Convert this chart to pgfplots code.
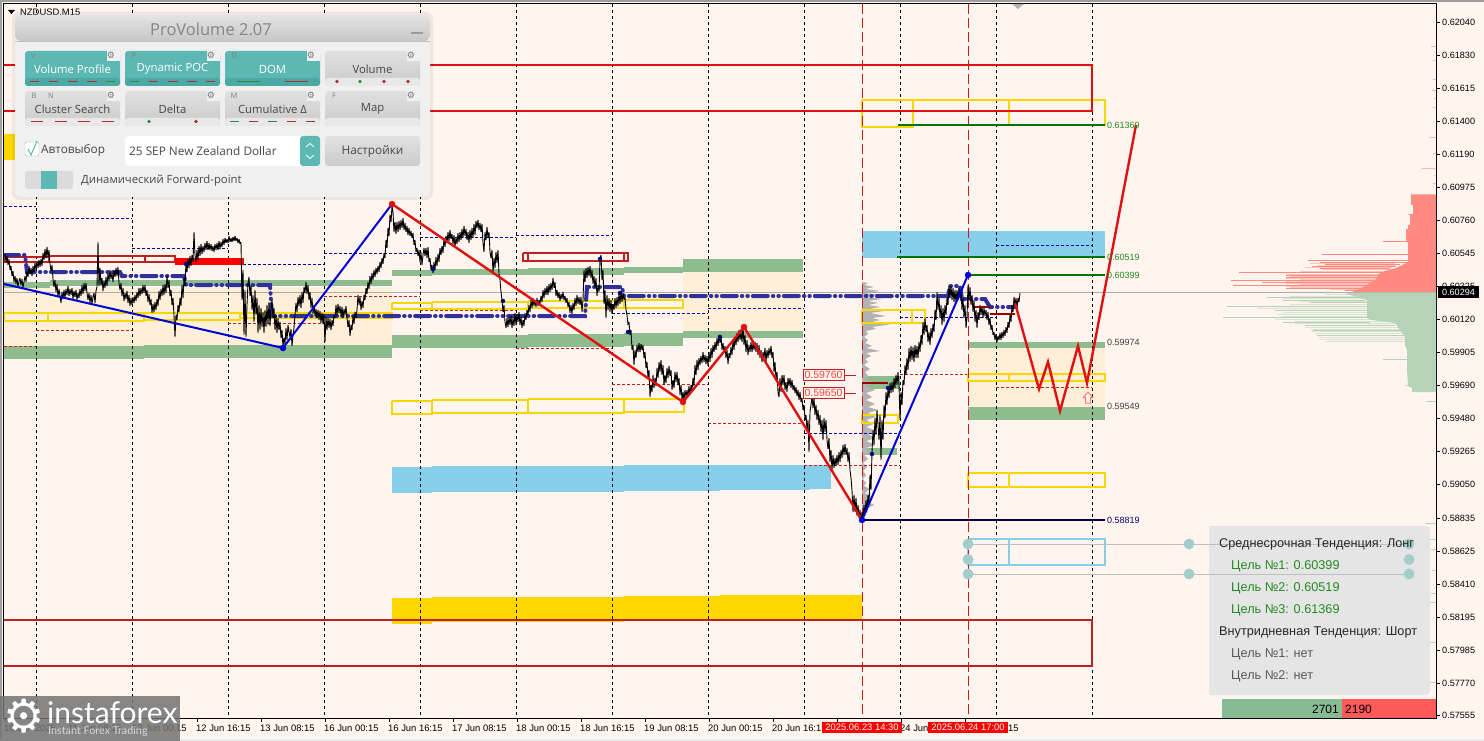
\documentclass[border=0pt]{standalone}
\usepackage{fontspec}
\setmainfont{Liberation Sans}
\newfontfamily\ui{Open Sans}
\newfontfamily\dejavu{DejaVu Sans}
\newfontfamily\lato{Lato}
\usepackage{pgfplots}
\pgfplotsset{compat=1.18}

\definecolor{bg}{HTML}{FFF5EE}
\definecolor{cream}{HTML}{FFEFD9}
\definecolor{zone}{HTML}{8FBC8F}
\definecolor{sky}{HTML}{87CEEB}
\definecolor{gold}{HTML}{FFD700}
\definecolor{boxy}{HTML}{F5D800}
\definecolor{lvlred}{HTML}{E01010}
\definecolor{dred}{HTML}{C02020}
\definecolor{dblue}{HTML}{0000A0}
\definecolor{poc}{HTML}{30309A}
\definecolor{volred}{HTML}{FF8A80}
\definecolor{volgreen}{HTML}{B5D3B8}
\definecolor{palered}{HTML}{FFC4BC}
\definecolor{palegreen}{HTML}{D8E4D2}
\definecolor{teal}{HTML}{5DB8B3}
\definecolor{tealdark}{HTML}{4BA8A4}
\definecolor{dotc}{HTML}{A3CDCB}
\definecolor{txtgreen}{HTML}{228B22}
\definecolor{mkred}{HTML}{B03030}
\definecolor{mkgreen}{HTML}{2E8B3E}

\newcommand{\band}[5]{\addplot[draw=none,fill=#5] coordinates {(#1,#2)(#3,#2)(#3,#4)(#1,#4)};}
\newcommand{\frm}[5]{\addplot[draw=#5,line width=1.2pt] coordinates {(#1,#2)(#3,#2)(#3,#4)(#1,#4)(#1,#2)};}

% small parts of the ProVolume panel
\newcommand{\gear}[2]{\node[font=\dejavu\fontsize{9}{9}\selectfont,text=black!55] at (#1,#2) {⚙};}
\newcommand{\tabl}[3]{\node[font=\ui\fontsize{7.5}{8}\selectfont,text=black!50] at (#1,#2) {#3};}
\newcommand{\dsh}[4]{\draw[#4,line width=0.9pt] (#1,#3) -- (#2,#3);}

\begin{document}
\begin{tikzpicture}
\fill[bg] (0pt,0pt) rectangle (1484pt,741pt);
\fill[black!38] (0pt,739pt) rectangle (1484pt,741pt);
\fill[black!38] (0pt,0pt) rectangle (1.5pt,741pt);
\fill[black!8] (0pt,0pt) rectangle (1484pt,2pt);

\begin{axis}[
  at={(4pt,23pt)},anchor=south west,
  scale only axis,width=1432pt,height=714pt,
  xmin=4,xmax=1436,ymin=4,ymax=718,y dir=reverse,
  axis line style={line width=1pt,black},
  tick style={black,line width=0.8pt},
  tick align=outside,major tick length=4pt,
  xtick pos=bottom,ytick pos=right,
  unbounded coords=jump,
  xtick={5,69,133,197,261,325,389,453,517,581,645,709,773,837,901,965},
  xticklabels={10 Jun 2025,11 Jun 08:15,12 Jun 00:15,12 Jun 16:15,13 Jun 08:15,16 Jun 00:15,16 Jun 16:15,17 Jun 08:15,18 Jun 00:15,18 Jun 16:15,19 Jun 08:15,20 Jun 00:15,20 Jun 16:15,23 Jun 08:15,24 Jun 00:15,24 Jun 16:15},
  x tick label style={anchor=north west,inner sep=0pt,font=\fontsize{9.4}{10}\selectfont,xshift=-1pt,yshift=-3pt},
  ytick={22.4,55,88,121,154.5,187.5,220.5,253.5,286,319.5,352,385,418,451,484,518,551,584,617,650,683,715},
  yticklabels={0.62040,0.61830,0.61615,0.61400,0.61190,0.60975,0.60760,0.60545,0.60325,0.60120,0.59905,0.59690,0.59480,0.59265,0.59050,0.58835,0.58625,0.58410,0.58195,0.57985,0.57770,0.57555},
  y tick label style={anchor=west,inner sep=0pt,font=\fontsize{9.1}{10}\selectfont,xshift=2pt},
]
% cream value areas
\band{4}{288}{392}{346}{cream}
\band{683}{272}{803}{331}{cream}
\band{968}{348}{1105}{407}{cream}
% green zones
\band{4}{282}{50}{288}{zone}
\band{50}{279.5}{392}{286}{zone}
\band{392}{270}{432}{276}{zone}
\band{432}{269}{528}{275}{zone}
\band{528}{268}{624}{275}{zone}
\band{624}{267}{683}{273}{zone}
\band{683}{259}{803}{272}{zone}
\band{4}{346}{144}{358.5}{zone}
\band{144}{345}{392}{358}{zone}
\band{392}{335}{528}{348}{zone}
\band{528}{334}{624}{347}{zone}
\band{624}{333}{683}{346}{zone}
\band{683}{331}{803}{338}{zone}
\band{968}{342}{1105}{348}{zone}
\band{968}{407}{1105}{420}{zone}
\band{862}{376}{900}{389}{zone}
\band{862}{448}{897}{455}{zone}
% blue zones
\band{392}{467}{432}{493}{sky}
\band{432}{466}{624}{492}{sky}
\band{624}{465}{720}{491}{sky}
\band{720}{465}{810}{490}{sky}
\band{810}{465}{831}{489}{sky}
\band{862}{231}{1105}{258}{sky}
% gold zones
\band{4}{134}{16}{160}{gold}
\band{392}{598}{432}{624}{gold}
\band{432}{597}{624}{622}{gold}
\band{624}{596}{720}{621}{gold}
\band{720}{595}{862}{620}{gold}
% fixed range profile
\addplot[draw=none,fill=black!30] coordinates {(862,282)(868,283)(864,285)(874,287)(865,289)(880,291)(866,293)(878,295)(866,297)(882,299)(868,301)(878,303)(868,305)(880,307)(870,309)(884,311)(870,313)(886,316)(872,318)(880,320)(872,322)(890,324.5)(872,327)(876,329)(866,331)(868,334)(864,337)(868,340)(865,343)(872,346)(866,348)(880,351)(866,353)(871,356)(865,359)(868,362)(864,365)(870,369)(865,372)(868,376)(864,379)(875,383)(866,386)(875,390)(866,393)(872,397)(866,400)(875,404)(868,407)(878,410)(868,413)(876,417)(866,420)(873,424)(866,427)(876,431)(868,434)(875,438)(866,441)(875,445)(866,448)(870,452)(864,455)(868,459)(863,463)(867,467)(863,471)(866,475)(863,479)(866,483)(864,486)(870,489)(865,493)(871,497)(866,501)(874,505)(866,509)(868,512)(862,516)};
% price line of the last session
\addplot[gray!65,line width=0.8pt] coordinates {(4,292)(1436,292)};
% session separators
\addplot[black,line width=0.9pt,dash pattern=on 3pt off 3pt] coordinates {(36,4)(36,718)(36,nan)(132,4)(132,718)(132,nan)(228,4)(228,718)(228,nan)(324,4)(324,718)(324,nan)(420,4)(420,718)(420,nan)(516,4)(516,718)(516,nan)(612,4)(612,718)(612,nan)(708,4)(708,718)(708,nan)(804,4)(804,718)(804,nan)(900,4)(900,718)(900,nan)(996,4)(996,718)(996,nan)(1092,4)(1092,718)};
% session levels, high side
\addplot[dblue,line width=1pt,yshift=-0.5pt,dash pattern=on 3pt off 2pt] coordinates {(4,206)(36,206)(36,nan)(36,218)(132,218)(132,nan)(132,248)(228,248)(228,nan)(228,264)(324,264)(324,nan)(324,253)(420,253)(420,nan)(420,237)(516,237)(516,nan)(516,235)(612,235)(612,nan)(612,313)(708,313)(708,nan)(708,308)(804,308)(804,nan)(804,433)(900,433)(900,nan)(900,317)(996,317)(996,nan)(996,245)(1092,245)};
% session levels, low side
\addplot[dred,line width=1pt,yshift=-0.5pt,dash pattern=on 3pt off 2pt] coordinates {(4,346)(36,346)(36,nan)(36,330)(132,330)(132,nan)(132,320)(228,320)(228,nan)(228,323)(324,323)(324,nan)(324,296)(420,296)(420,nan)(420,310)(516,310)(516,nan)(516,348)(612,348)(612,nan)(612,384)(708,384)(708,nan)(708,423)(804,423)(804,nan)(804,465)(900,465)(900,nan)(900,374)(996,374)(996,nan)(996,387)(1092,387)};
% yellow boxes
\frm{4}{313}{48}{321}{boxy}
\frm{48}{313}{144}{321}{boxy}
\frm{144}{313}{240}{320}{boxy}
\frm{240}{313}{392}{318}{boxy}
\frm{392}{303}{432}{309}{boxy}
\frm{432}{302}{528}{309}{boxy}
\frm{528}{301}{624}{308}{boxy}
\frm{624}{300}{683}{308}{boxy}
\frm{392}{401}{432}{414}{boxy}
\frm{432}{400}{528}{413}{boxy}
\frm{528}{399}{624}{413}{boxy}
\frm{624}{399}{684}{412}{boxy}
\frm{862}{100}{913}{127}{boxy}
\frm{913}{100}{1009}{125}{boxy}
\frm{1009}{100}{1105}{125}{boxy}
\frm{862}{310}{912}{323}{boxy}
\frm{912}{310}{925}{323}{boxy}
\frm{862}{415}{898}{423}{boxy}
\frm{968}{374}{1009}{381}{boxy}
\frm{1009}{374}{1105}{381}{boxy}
\frm{968}{473}{1009}{487}{boxy}
\frm{1009}{473}{1105}{487}{boxy}
\frm{968}{539}{1009}{565}{sky}
\frm{1009}{539}{1105}{565}{sky}
% red boxes
\frm{4}{257}{49}{262}{dred}
\frm{49}{256}{145}{262}{dred}
\frm{145}{256}{175}{262}{dred}
\band{175}{258}{244}{265}{red}
\frm{523}{253}{528}{261}{dred}
\frm{528}{253}{624}{261}{dred}
\frm{624}{253}{628}{261}{dred}
% big red frames
\addplot[lvlred,line width=2pt] coordinates {(4,65)(1092,65)(1092,111)(4,111)};
\addplot[dred,line width=2pt] coordinates {(4,620)(1092,620)(1092,666)(4,666)};
% dynamic POC
\addplot[poc,line width=4pt,line cap=round,dash pattern=on 15pt off 5pt on 0.5pt off 5pt on 0.5pt off 5pt] coordinates {(4,255)(25,255)(27,272)(120,272)(122,276)(184,276)(186,285)(270,285)(272,316)(585,316)(587,287)(622,287)(624,296)(948,296)(950,286)(960,286)(962,299)(985,299)(990,307)(1015,307)};
% vertical markers
\addplot[dred!80!red,line width=0.9pt,dash pattern=on 10pt off 4pt] coordinates {(862,4)(862,718)(862,nan)(968,4)(968,718)};
% profile on the right
\addplot[palered,line width=0.8pt] coordinates {(1395,263)(1310,263)(1310,nan)(1395,265)(1318,265)(1318,nan)(1392,267)(1305,267)(1305,nan)(1390,269)(1322,269)(1322,nan)(1385,271)(1300,271)(1300,nan)(1380,274)(1286,274)(1286,nan)(1378,276)(1290,276)(1290,nan)(1378,278)(1286,278)(1286,nan)(1375,279)(1300,279)(1300,nan)(1375,281)(1286,281)(1286,nan)(1372,283)(1286,283)(1286,nan)(1370,284)(1300,284)(1300,nan)(1365,286)(1286,286)(1286,nan)(1362,287)(1290,287)(1290,nan)(1360,289)(1330,289)};
\addplot[palegreen,line width=0.8pt] coordinates {(1360,294)(1325,294)(1325,nan)(1365,296)(1290,296)(1290,nan)(1367,298)(1283,298)(1283,nan)(1367,301)(1300,301)(1300,nan)(1367,304)(1290,304)(1290,nan)(1367,308)(1258,308)(1258,nan)(1367,312)(1283,312)(1283,nan)(1367,314)(1278,314)(1278,nan)(1370,316)(1283,316)(1283,nan)(1372,319)(1275,319)(1275,nan)(1385,321)(1295,321)(1295,nan)(1395,323)(1295,323)(1295,nan)(1400,327)(1305,327)(1305,nan)(1400,329)(1310,329)(1310,nan)(1403,331)(1312,331)(1312,nan)(1405,333)(1315,333)(1315,nan)(1405,337)(1318,337)(1318,nan)(1405,339)(1320,339)(1320,nan)(1405,341)(1325,341)};
\addplot[draw=none,fill=volred] coordinates {(1436,194.5)(1411,194.5)(1411,205)(1413,205)(1413,214)(1407,214)(1410,215)(1410,225)(1408,225)(1408,229)(1406,229)(1406,240)(1408,243)(1408,262)(1402,265)(1396,268)(1385,271)(1380,273)(1375,280)(1367,285)(1357,290)(1352,292)(1436,292)};
\addplot[draw=none,fill=volgreen] coordinates {(1436,292.5)(1343,292.5)(1350,295)(1367,300)(1367,318)(1372,320)(1395,323)(1400,330)(1405,337)(1405,345)(1407,350)(1407,370)(1408,385)(1405,385)(1412,388)(1412,392)(1436,392)};
\addplot[volred,line width=0.8pt] coordinates {(1408,241)(1383,241)(1383,nan)(1408,254)(1322,254)(1322,nan)(1408,260)(1308,260)(1308,nan)(1408,262)(1320,262)(1320,nan)(1400,264)(1325,264)(1325,nan)(1396,266)(1312,266)(1312,nan)(1390,268)(1320,268)(1320,nan)(1385,272)(1239,272)(1239,nan)(1380,275)(1286,275)(1286,nan)(1380,277)(1286,277)(1286,nan)(1375,280)(1231,280)(1231,nan)(1375,282)(1262,282)(1262,nan)(1367,285)(1233,285)(1233,nan)(1360,288)(1286,288)(1286,nan)(1357,290)(1345,290)};
\addplot[volgreen,line width=0.8pt] coordinates {(1360,297)(1267,297)(1267,nan)(1365,300)(1283,300)(1283,nan)(1367,302)(1310,302)(1310,nan)(1367,306)(1227,306)(1227,nan)(1367,310)(1275,310)(1275,nan)(1367,317.5)(1223,317.5)(1223,nan)(1370,322)(1283,322)(1283,nan)(1395,325)(1305,325)(1305,nan)(1400,330)(1313,330)(1313,nan)(1405,335)(1317,335)(1317,nan)(1407,359)(1383,359)(1383,nan)(1408,365)(1413,365)};
\addplot[volred!60!bg,line width=0.8pt] coordinates {(1436,46)(1431,46)(1431,nan)(1436,60)(1433,60)(1433,nan)(1436,79)(1433,79)(1433,nan)(1436,90)(1432,90)(1432,nan)(1436,98)(1434,98)(1434,nan)(1436,107)(1433,107)(1433,nan)(1436,137)(1430,137)(1430,nan)(1436,153)(1433,153)(1433,nan)(1436,168)(1422,168)(1422,nan)(1436,175)(1434,175)(1434,nan)(1436,183)(1433,183)};
\addplot[volgreen,line width=0.8pt] coordinates {(1436,401)(1426,401)(1426,nan)(1436,523)(1426,523)(1426,nan)(1436,539)(1428,539)(1428,nan)(1436,549)(1431,549)(1431,nan)(1436,570)(1432,570)(1432,nan)(1436,593)(1431,593)(1431,nan)(1436,602)(1428,602)(1428,nan)(1436,642)(1415,642)(1415,nan)(1436,682)(1427,682)};
% price
\addplot[black,line width=0.9pt,line join=bevel] coordinates {
(5,254)(6,262)(7,256)(8,265)(9,259)(10,270)(11,266)(12,276)(13,271)(14,282)(15,276)(16,284)(17,278)(18,287)(19,281)(20,278)(21,285)(22,279)(23,288)(24,282)(25,276)(26,282)(27,271)(28,277)(29,266)(30,274)(31,268)(32,276)(33,266)(34,272)(35,263)(36,270)(37,262)(38,268)(39,260)(40,267)(41,259)(42,266)(43,253)(44,260)(45,249)(46,258)(47,247)(48,257)(49,250)(50,264)(51,271)(52,265)(53,279)(54,287)(55,280)(56,292)(57,284)(58,297)(59,289)(60,296)(61,303)(62,292)(63,299)(64,290)(65,298)(66,289)(67,295)(68,286)(69,296)(70,289)(71,295)(72,288)(73,299)(74,291)(75,297)(76,290)(77,300)(78,293)(79,298)(80,289)(81,296)(82,285)(83,294)(84,283)(85,291)(86,283)(87,293)(88,300)(89,293)(90,303)(91,295)(92,304)(93,297)(94,293)(95,303)(96,291)(97,287)(98,242)(99,286)
(100,268)(101,285)(102,278)(103,291)(104,281)(105,288)(106,277)(107,286)(108,273)(109,281)(110,270)(111,279)(112,273)(113,282)(114,271)(115,277)(116,268)(117,276)(118,267)(119,283)(120,290)(121,283)(122,296)(123,288)(124,301)(125,293)(126,299)(127,291)(128,303)(129,295)(130,306)(131,298)(132,305)(133,297)(134,303)(135,295)(136,301)(137,292)(138,298)(139,288)(140,296)(141,288)(142,294)(143,285)(144,293)(145,285)(146,296)(147,290)(148,302)(149,294)(150,305)(151,299)(152,313)(153,304)(154,312)(155,302)(156,310)(157,299)(158,306)(159,291)(160,300)(161,289)(162,296)(163,285)(164,295)(165,284)(166,293)(167,276)(168,288)(169,280)(170,296)(171,290)(172,305)(173,298)(174,315)(175,337)(176,315)(177,320)(178,305)(179,312)(180,298)(181,306)(182,285)(183,298)(184,278)(185,286)(186,262)(187,272)(188,259)(189,268)(190,256)(191,266)(192,255)(193,262)(194,232)(195,255)(196,262)(197,250)(198,260)(199,246)
(200,256)(201,244)(202,254)(203,246)(204,252)(205,243)(206,250)(207,241)(208,250)(209,243)(210,250)(211,244)(212,251)(213,246)(214,252)(215,244)(216,250)(217,243)(218,250)(219,241)(220,249)(221,242)(222,247)(223,239)(224,245)(225,238)(226,243)(227,239)(228,243)(229,236)(230,242)(231,238)(232,242)(233,237)(234,241)(235,236)(236,241)(237,238)(238,243)(239,239)(240,244)(241,242)(242,300)(243,270)(244,335)(245,290)(246,337)(247,305)(248,283)(249,277)(250,296)(251,285)(252,310)(253,295)(254,322)(255,290)(256,315)(257,298)(258,333)(259,305)(260,330)(261,308)(262,327)(263,312)(264,333)(265,310)(266,327)(267,305)(268,325)(269,302)(270,326)(271,308)(272,300)(273,318)(274,308)(275,330)(276,315)(277,333)(278,318)(279,330)(280,322)(281,338)(282,330)(283,347)(284,338)(285,344)(286,328)(287,340)(288,325)(289,332)(290,337)(291,329)(292,346)(293,335)(294,328)(295,315)(296,303)(297,312)(298,297)(299,306)
(300,295)(301,308)(302,292)(303,303)(304,287)(305,293)(306,282)(307,294)(308,285)(309,300)(310,292)(311,308)(312,298)(313,314)(314,305)(315,316)(316,309)(317,318)(318,310)(319,320)(320,311)(321,323)(322,313)(323,324)(324,314)(325,342)(326,317)(327,330)(328,318)(329,328)(330,319)(331,330)(332,320)(333,326)(334,315)(335,318)(336,305)(337,316)(338,304)(339,313)(340,306)(341,316)(342,307)(343,318)(344,309)(345,315)(346,306)(347,318)(348,327)(349,320)(350,336)(351,325)(352,330)(353,316)(354,324)(355,312)(356,318)(357,310)(358,295)(359,305)(360,297)(361,310)(362,301)(363,308)(364,295)(365,300)(366,288)(367,294)(368,282)(369,289)(370,276)(371,284)(372,273)(373,280)(374,270)(375,277)(376,268)(377,274)(378,266)(379,272)(380,262)(381,268)(382,258)(383,264)(384,253)(385,258)(386,240)(387,248)(388,228)(389,236)(390,215)(391,222)(392,206)(393,212)(394,232)(395,222)(396,234)(397,222)(398,232)(399,221)
(400,230)(401,220)(402,228)(403,218)(404,230)(405,223)(406,232)(407,226)(408,235)(409,228)(410,236)(411,231)(412,238)(413,233)(414,245)(415,240)(416,252)(417,248)(418,256)(419,250)(420,262)(421,252)(422,265)(423,255)(424,248)(425,256)(426,248)(427,258)(428,247)(429,262)(430,258)(431,270)(432,265)(433,273)(434,262)(435,270)(436,257)(437,266)(438,254)(439,262)(440,248)(441,255)(442,246)(443,253)(444,238)(445,247)(446,236)(447,243)(448,232)(449,241)(450,230)(451,239)(452,234)(453,244)(454,235)(455,247)(456,238)(457,244)(458,233)(459,242)(460,232)(461,240)(462,229)(463,238)(464,226)(465,236)(466,229)(467,240)(468,232)(469,243)(470,230)(471,240)(472,228)(473,238)(474,224)(475,235)(476,221)(477,228)(478,220)(479,230)(480,223)(481,232)(482,224)(483,243)(484,252)(485,232)(486,240)(487,227)(488,238)(489,232)(490,252)(491,258)(492,250)(493,273)(494,258)(495,268)(496,252)(497,263)(498,250)(499,274)
(500,280)(501,292)(502,300)(503,312)(504,305)(505,322)(506,328)(507,318)(508,327)(509,317)(510,325)(511,316)(512,328)(513,318)(514,326)(515,313)(516,325)(517,314)(518,322)(519,312)(520,325)(521,317)(522,328)(523,320)(524,326)(525,313)(526,320)(527,310)(528,315)(529,305)(530,312)(531,300)(532,308)(533,298)(534,306)(535,300)(536,307)(537,298)(538,306)(539,300)(540,304)(541,296)(542,302)(543,290)(544,298)(545,288)(546,295)(547,286)(548,295)(549,284)(550,292)(551,283)(552,290)(553,278)(554,288)(555,282)(556,296)(557,290)(558,298)(559,292)(560,301)(561,294)(562,299)(563,292)(564,300)(565,296)(566,303)(567,298)(568,307)(569,302)(570,313)(571,305)(572,314)(573,303)(574,310)(575,298)(576,306)(577,295)(578,304)(579,297)(580,305)(581,297)(582,312)(583,300)(584,270)(585,282)(586,268)(587,278)(588,267)(589,276)(590,266)(591,278)(592,270)(593,284)(594,276)(595,288)(596,278)(597,296)(598,285)(599,292)
(600,258)(601,255)(602,280)(603,270)(604,304)(605,290)(606,318)(607,295)(608,310)(609,298)(610,312)(611,300)(612,314)(613,304)(614,310)(615,298)(616,308)(617,297)(618,306)(619,293)(620,304)(621,292)(622,302)(623,293)(624,300)(625,297)(626,310)(627,315)(628,325)(629,322)(630,335)(631,330)(632,350)(633,345)(634,365)(635,350)(636,358)(637,345)(638,352)(639,343)(640,352)(641,344)(642,350)(643,345)(644,358)(645,352)(646,368)(647,362)(648,378)(649,370)(650,397)(651,385)(652,392)(653,375)(654,388)(655,378)(656,386)(657,368)(658,378)(659,362)(660,372)(661,360)(662,375)(663,365)(664,385)(665,375)(666,383)(667,368)(668,378)(669,366)(670,376)(671,370)(672,390)(673,380)(674,388)(675,372)(676,382)(677,372)(678,385)(679,378)(680,395)(681,385)(682,400)(683,392)(684,400)(685,390)(686,397)(687,390)(688,396)(689,386)(690,395)(691,385)(692,390)(693,378)(694,386)(695,365)(696,375)(697,360)(698,370)(699,358)
(700,365)(701,356)(702,363)(703,352)(704,362)(705,355)(706,364)(707,356)(708,366)(709,352)(710,362)(711,348)(712,358)(713,345)(714,352)(715,342)(716,350)(717,338)(718,346)(719,335)(720,343)(721,336)(722,350)(723,343)(724,352)(725,346)(726,358)(727,350)(728,364)(729,353)(730,358)(731,347)(732,355)(733,340)(734,350)(735,337)(736,345)(737,333)(738,342)(739,330)(740,340)(741,332)(742,342)(743,326)(744,345)(745,335)(746,352)(747,340)(748,355)(749,345)(750,352)(751,342)(752,352)(753,343)(754,350)(755,342)(756,352)(757,343)(758,355)(759,345)(760,358)(761,350)(762,362)(763,352)(764,358)(765,348)(766,362)(767,350)(768,358)(769,348)(770,355)(771,346)(772,358)(773,352)(774,372)(775,362)(776,380)(777,372)(778,392)(779,397)(780,378)(781,392)(782,375)(783,385)(784,375)(785,390)(786,382)(787,392)(788,378)(789,386)(790,378)(791,388)(792,380)(793,390)(794,385)(795,393)(796,387)(797,396)(798,390)(799,400)
(800,392)(801,402)(802,398)(803,410)(804,405)(805,420)(806,415)(807,430)(808,420)(809,452)(810,412)(811,405)(812,396)(813,408)(814,398)(815,415)(816,405)(817,420)(818,410)(819,425)(820,415)(821,432)(822,420)(823,440)(824,418)(825,432)(826,420)(827,440)(828,449)(829,438)(830,462)(831,450)(832,470)(833,455)(834,468)(835,458)(836,466)(837,455)(838,465)(839,452)(840,462)(841,450)(842,458)(843,445)(844,455)(845,444)(846,455)(847,448)(848,462)(849,452)(850,470)(851,478)(852,490)(853,512)(854,495)(855,512)(856,498)(857,516)(858,505)(859,518)(860,510)(861,522)(862,512)(863,518)(864,505)(865,515)(866,500)(867,510)(868,495)(869,505)(870,475)(871,490)(872,452)(873,430)(874,445)(875,418)(876,435)(877,410)(878,425)(879,440)(880,415)(881,460)(882,420)(883,440)(884,405)(885,418)(886,392)(887,405)(888,388)(889,398)(890,383)(891,393)(892,382)(893,392)(894,378)(895,388)(896,375)(897,385)(898,372)(899,385)
(900,420)(901,392)(902,405)(903,380)(904,385)(905,365)(906,375)(907,358)(908,370)(909,348)(910,362)(911,346)(912,360)(913,347)(914,362)(915,345)(916,358)(917,346)(918,358)(919,342)(920,352)(921,335)(922,345)(923,322)(924,335)(925,318)(926,332)(927,325)(928,342)(929,332)(930,345)(931,328)(932,338)(933,324)(934,332)(935,310)(936,320)(937,292)(938,310)(939,298)(940,318)(941,305)(942,325)(943,308)(944,322)(945,305)(946,315)(947,298)(948,305)(949,285)(950,298)(951,286)(952,300)(953,288)(954,302)(955,290)(956,303)(957,290)(958,300)(959,288)(960,298)(961,290)(962,310)(963,298)(964,318)(965,305)(966,328)(967,318)(968,285)(969,300)(970,287)(971,305)(972,295)(973,312)(974,300)(975,322)(976,310)(977,328)(978,312)(979,320)(980,305)(981,315)(982,306)(983,318)(984,308)(985,316)(986,310)(987,320)(988,312)(989,325)(990,318)(991,330)(992,325)(993,335)(994,332)(995,340)(996,334)(997,342)(998,336)(999,340)
(1000,333)(1001,340)(1002,332)(1003,338)(1004,330)(1005,336)(1006,327)(1007,333)(1008,322)(1009,328)(1010,315)(1011,322)(1012,305)(1013,312)(1014,297)(1015,305)(1016,298)(1017,308)(1018,298)(1019,302)(1020,293)};
\addplot[only marks,mark=*,mark size=2pt,color=dblue!80!black,mark options={draw=none,fill=dblue!80!black}] coordinates {(186,264)(433,269)(503,301)(600,259)(620,293)(628,332)(720,337)(872,454)(888,388)};
% targets
\addplot[green!45!black,line width=2pt] coordinates {(897,257)(1105,257)(1105,nan)(968,275)(1105,275)(1105,nan)(898,125)(1105,125)};
\addplot[black!55!blue!60!black,line width=2pt] coordinates {(862,520)(1105,520)};
\addplot[red!60!black,line width=1.6pt] coordinates {(975,307)(990,307)(990,nan)(990,314)(1015,314)(1015,nan)(862,383)(888,383)};
\addplot[dred,line width=1pt] coordinates {(844,375)(856,375)(856,nan)(844,393)(856,393)};
% zigzags
\addplot[blue!85!black,line width=2pt] coordinates {(4,284)(283,348)(392,204)};
\addplot[lvlred,line width=2.4pt] coordinates {(392,204)(683,402)(744,327)(862,520)};
\addplot[blue!85!black,line width=2pt] coordinates {(862,520)(968,275)};
\addplot[lvlred,line width=2.4pt,line join=miter] coordinates {(1015,303)(1039,389)(1048,362)(1060,411)(1078,346)(1087,383)(1136,125)};
\addplot[only marks,mark=*,mark size=3pt,color=lvlred,mark options={draw=none,fill=lvlred}] coordinates {(392,204)(683,402)(744,327)};
\addplot[only marks,mark=*,mark size=3pt,color=blue!85!black,mark options={draw=none,fill=blue!85!black}] coordinates {(283,348)(862,520)(968,275)};
% hollow arrow
\addplot[red!50!bg,line width=1pt,fill=bg] coordinates {(1088,392)(1092.5,397.5)(1090.5,397.5)(1090.5,403)(1085.5,403)(1085.5,397.5)(1083.5,397.5)(1088,392)};
% info panel
\addplot[draw=none,fill=black!10,rounded corners=4pt] coordinates {(1209,526)(1430,526)(1430,695)(1209,695)};
% delta bar
\band{1222}{699}{1342}{718}{zone!85!teal}
\band{1342}{699}{1436}{718}{red!65!white}
% drag handles
\addplot[black!25,line width=1pt] coordinates {(968,544)(1409,544)(1409,nan)(968,574)(1409,574)};
\addplot[only marks,mark=*,mark size=5.2pt,color=dotc,mark options={draw=dotc,fill=dotc}] coordinates {(968,544)(968,559.5)(968,574)(1189,544)(1189,574)(1409,544)(1409,559.5)(1409,574)};
\end{axis}

\begin{scope}[shift={(0pt,741pt)},x=1pt,y=-1pt]
% labels of the levels
\foreach \v/\yy/\c in {0.61369/125/txtgreen,0.60519/257/txtgreen,0.60399/275/txtgreen,0.59974/342/black!75,0.59549/406/black!75,0.58819/520/black!55!blue} {
  \node[anchor=west,inner sep=0pt,font=\fontsize{9}{10}\selectfont,text=\c] at (1107,\yy) {\v};
}
\foreach \v/\yy in {0.59760/375,0.59650/393} {
  \draw[dred,line width=0.8pt,fill=bg] (803,\yy-5.8) rectangle (844,\yy+5.8);
  \node[inner sep=0pt,font=\fontsize{10.5}{11}\selectfont,text=red!75!white] at (823.5,\yy) {\v};
}
% last price and date flags
\fill[black] (1438,286) rectangle (1479,298);
\node[inner sep=0pt,font=\fontsize{9.1}{10}\selectfont,text=white] at (1458.5,292) {0.60294};
\fill[red] (822,722) rectangle (902,733);
\node[inner sep=0pt,font=\fontsize{9.4}{10}\selectfont,text=white] at (862,727.5) {2025.06.23 14:30};
\fill[red] (928,722) rectangle (1008,733);
\node[inner sep=0pt,font=\fontsize{9.4}{10}\selectfont,text=white] at (968,727.5) {2025.06.24 17:00};
% delta numbers
\node[anchor=east,inner sep=0pt,font=\fontsize{12}{13}\selectfont] at (1339,709) {2701};
\node[anchor=west,inner sep=0pt,font=\fontsize{12}{13}\selectfont] at (1345,709) {2190};
% trend panel text
\node[anchor=west,inner sep=0pt,font=\fontsize{12.7}{14}\selectfont,text=black!85] at (1219,544.5) {Среднесрочная Тенденция: Лонг};
\node[anchor=west,inner sep=0pt,font=\fontsize{12.7}{14}\selectfont,text=txtgreen] at (1231,566) {Цель №1: 0.60399};
\node[anchor=west,inner sep=0pt,font=\fontsize{12.7}{14}\selectfont,text=txtgreen] at (1231,588) {Цель №2: 0.60519};
\node[anchor=west,inner sep=0pt,font=\fontsize{12.7}{14}\selectfont,text=txtgreen] at (1231,610) {Цель №3: 0.61369};
\node[anchor=west,inner sep=0pt,font=\fontsize{12.7}{14}\selectfont,text=black!85] at (1219,632) {Внутридневная Тенденция: Шорт};
\node[anchor=west,inner sep=0pt,font=\fontsize{12.7}{14}\selectfont,text=black!65] at (1231,654) {Цель №1: нет};
\node[anchor=west,inner sep=0pt,font=\fontsize{12.7}{14}\selectfont,text=black!65] at (1231,676) {Цель №2: нет};
% symbol
\fill[black] (8,10) -- (15,10) -- (11.5,14) -- cycle;
\node[anchor=west,inner sep=0pt,font=\fontsize{9.4}{10}\selectfont] at (20,12.5) {NZDUSD.M15};
\fill[black!30] (1012,4) -- (1024,4) -- (1018,9) -- cycle;
% ProVolume panel
\fill[black,opacity=0.06,rounded corners=7pt] (12,12) rectangle (433,200);
\fill[black!6,rounded corners=6pt] (15,15) rectangle (430,197);
\shade[top color=black!11,bottom color=black!22,rounded corners=6pt] (15,15) rectangle (430,41);
\draw[black!25] (15,41) -- (430,41);
\node[font=\ui\fontsize{16.5}{18}\selectfont,text=black!48] at (211,29) {ProVolume 2.07};
\fill[black!40] (411,32.5) rectangle (423,34);
% buttons
\foreach \bx/\by/\bt in {25/51/Volume Profile,125/51/Dynamic POC,225/51/DOM} {
  \fill[teal,rounded corners=3pt] (\bx,\by) rectangle ++(95,35);
  \fill[tealdark,rounded corners=3pt] (\bx,\by+27) rectangle ++(95,8);
  \fill[black!6] (\bx+82,\by) rectangle ++(13,10);
  \node[font=\ui\fontsize{11.3}{14}\selectfont,text=white] at (\bx+47.5,\by+18) {\bt};
  \gear{\bx+86}{\by+4.5}
}
\foreach \bx/\by/\bt in {325/51/Volume,25/91/Cluster Search,125/91/Delta,225/91/Cumulative Δ,325/91/Map} {
  \shade[top color=black!12,bottom color=black!21,rounded corners=3pt] (\bx,\by) rectangle ++(95,35);
  \fill[black!9,rounded corners=3pt] (\bx,\by+27) rectangle ++(95,8);
  \fill[black!6] (\bx+82,\by) rectangle ++(13,10);
  \node[font=\ui\fontsize{11.3}{14}\selectfont,text=black!72] at (\bx+47.5,\by+18) {\bt};
  \gear{\bx+86}{\by+4.5}
}
\tabl{33}{56}{V}\tabl{134}{56}{P}\tabl{234}{56}{D}\tabl{34}{96}{B}\tabl{51}{96}{N}\tabl{234}{96}{M}\tabl{334}{96}{F}
% status marks on the buttons
\foreach \a/\b in {30/39,49/58,68/78,87/97} {\dsh{\a}{\b}{81.5}{mkred}}
\dsh{106}{115}{81.5}{mkgreen}
\dsh{130}{139}{81.5}{mkgreen}
\foreach \a/\b in {149/158,168/178,187/197,206/215} {\dsh{\a}{\b}{81.5}{mkred}}
\dsh{237}{260}{81.5}{mkgreen}\dsh{285}{308}{81.5}{mkred}
\foreach \a/\c in {337/mkred,384/mkred,408/mkred,360/mkgreen} {\fill[\c] (\a,81.5) circle (1.8);}
\foreach \a/\b in {31/43,55/67,78/90,102/114} {\dsh{\a}{\b}{121.5}{mkred}}
\fill[mkgreen] (149,121.5) circle (1.8);\fill[mkred] (196,121.5) circle (1.8);
\dsh{230}{239}{121.5}{mkgreen}\dsh{249}{258}{121.5}{mkred}\dsh{268}{277}{121.5}{mkgreen}\dsh{287}{296}{121.5}{mkred}\dsh{306}{315}{121.5}{mkred}
% lower rows
\fill[white,rounded corners=2pt] (25,142) rectangle ++(14,14);
\draw[black!30,rounded corners=2pt] (25,142) rectangle ++(14,14);
\draw[teal,line width=1pt] (28,149) -- (31,155) -- (37,141);
\node[anchor=west,inner sep=0pt,font=\ui\fontsize{11.8}{13}\selectfont,text=black!72] at (41,150) {Автовыбор};
\fill[white,rounded corners=4pt] (125,136) rectangle (320,166);
\fill[teal,rounded corners=3pt] (300,136) rectangle (320,166);
\draw[white,line width=0.8pt] (306,147) -- (310,143.5) -- (314,147) (306,155) -- (310,158.5) -- (314,155);
\node[anchor=west,inner sep=0pt,font=\ui\fontsize{11.8}{13}\selectfont,text=black!72] at (129,151.5) {25 SEP New Zealand Dollar};
\shade[top color=black!12,bottom color=black!20,rounded corners=3pt] (325,136) rectangle (420,166);
\node[font=\ui\fontsize{11.8}{13}\selectfont,text=black!72] at (372.5,151.5) {Настройки};
\fill[black!14,rounded corners=3pt] (25,171) rectangle (73,189);
\fill[teal] (41,171) rectangle (57,189);
\node[anchor=west,inner sep=0pt,font=\ui\fontsize{11.3}{13}\selectfont,text=black!72] at (81,181) {Динамический Forward-point};
% watermark
\fill[black!55,opacity=0.85] (0,696) rectangle (180,741);
\node[font=\dejavu\fontsize{46}{46}\selectfont,text=white,inner sep=0pt] at (24,716) {⚙};
\node[anchor=west,inner sep=0pt,font=\lato\fontsize{30}{32}\selectfont,text=white] at (47,713) {instaforex};
\node[anchor=west,inner sep=0pt,font=\lato\fontsize{10.8}{12}\selectfont,text=white!85!black] at (48,732) {Instant Forex Trading};
\end{scope}
\pgfresetboundingbox
\path[use as bounding box] (0pt,0pt) rectangle (1484pt,741pt);
\end{tikzpicture}
\end{document}
